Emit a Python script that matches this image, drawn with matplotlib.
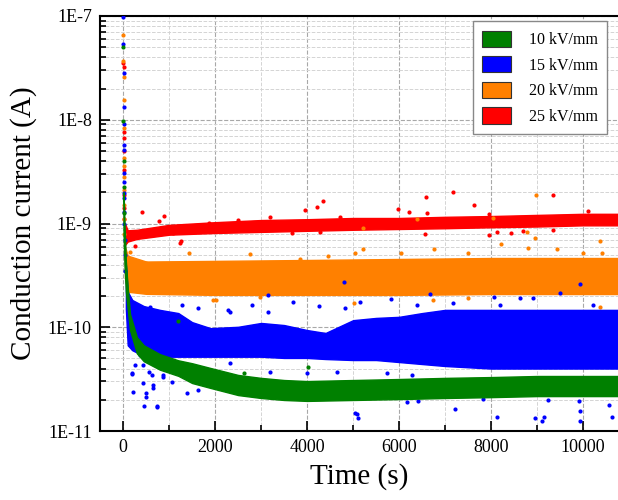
import matplotlib.pyplot as plt
from matplotlib.patches import Patch
from matplotlib.ticker import LogLocator, MultipleLocator, NullFormatter

# band of the dense point cloud for each field: time (s), upper / lower current (A)
red_t = [40, 100, 300, 1000, 2000, 3000, 4000, 5000, 6000, 7000, 8000, 9000, 10000, 10760]
red_hi = [1.0e-9, 8.6e-10, 8.7e-10, 9.7e-10, 1.03e-9, 1.08e-9, 1.10e-9, 1.13e-9, 1.13e-9,
          1.16e-9, 1.18e-9, 1.21e-9, 1.24e-9, 1.24e-9]
red_lo = [6.2e-10, 6.7e-10, 7.1e-10, 7.8e-10, 8.1e-10, 8.3e-10, 8.5e-10, 8.7e-10, 8.85e-10,
          9.0e-10, 9.2e-10, 9.35e-10, 9.6e-10, 9.6e-10]

orange_t = [40, 100, 500, 2000, 4000, 6000, 8000, 10000, 10760]
orange_hi = [6.0e-10, 4.9e-10, 4.3e-10, 4.36e-10, 4.45e-10, 4.55e-10, 4.65e-10, 4.65e-10, 4.65e-10]
orange_lo = [3.0e-10, 2.2e-10, 2.1e-10, 2.05e-10, 2.05e-10, 2.05e-10, 2.09e-10, 2.09e-10, 2.09e-10]

blue_t = [60, 100, 200, 450, 800, 1200, 1500, 1900, 2500, 3000, 3500, 4000, 4400, 5000,
          5500, 6000, 6500, 7000, 8000, 9000, 10000, 10760]
blue_hi = [4.0e-10, 2.2e-10, 1.83e-10, 1.6e-10, 1.47e-10, 1.37e-10, 1.12e-10, 9.8e-11, 1.01e-10,
           1.1e-10, 1.05e-10, 9.4e-11, 8.8e-11, 1.17e-10, 1.23e-10, 1.26e-10, 1.37e-10, 1.47e-10,
           1.47e-10, 1.47e-10, 1.47e-10, 1.47e-10]
blue_lo = [1.5e-10, 6.7e-11, 6.0e-11, 5.3e-11, 5.2e-11, 5.2e-11, 5.2e-11, 5.2e-11, 5.2e-11,
           5.2e-11, 5.06e-11, 5.06e-11, 4.94e-11, 4.83e-11, 4.83e-11, 4.62e-11, 4.42e-11, 4.23e-11,
           4.0e-11, 4.0e-11, 4.0e-11, 4.0e-11]

green_t = [10, 30, 60, 100, 150, 300, 450, 800, 1200, 1500, 1900, 2500, 3000, 3500, 4000,
           5000, 6000, 7000, 8000, 9000, 10000, 10760]
green_hi = [2.0e-9, 1.0e-9, 4.3e-10, 2.4e-10, 1.34e-10, 8.0e-11, 6.7e-11, 5.5e-11, 4.8e-11,
            4.5e-11, 4.05e-11, 3.47e-11, 3.25e-11, 3.1e-11, 3.03e-11, 3.1e-11, 3.17e-11,
            3.25e-11, 3.31e-11, 3.39e-11, 3.39e-11, 3.39e-11]
green_lo = [8.0e-10, 4.0e-10, 2.2e-10, 1.5e-10, 9.4e-11, 5.6e-11, 4.7e-11, 3.9e-11, 3.4e-11,
            2.9e-11, 2.6e-11, 2.22e-11, 2.08e-11, 1.99e-11, 1.95e-11, 1.99e-11, 2.03e-11,
            2.08e-11, 2.12e-11, 2.17e-11, 2.17e-11, 2.17e-11]

# single points: start-up transient and stray points (time, current)
red_pts = [(8, 3.5e-8), (10, 3.2e-8), (12, 7.7e-9), (12, 6.7e-9), (14, 5.0e-9), (15, 3.3e-9),
           (18, 1.9e-9), (20, 1.4e-9), (25, 1.1e-9),
           (413, 1.29e-9), (890, 1.18e-9), (780, 1.06e-9), (260, 6.1e-10), (1090, 8.1e-10),
           (1260, 6.8e-10), (1870, 1.01e-9), (2500, 1.08e-9), (4350, 1.65e-9), (4220, 1.43e-9),
           (3960, 1.35e-9), (3200, 1.16e-9), (4720, 1.16e-9), (5980, 1.38e-9), (6220, 1.29e-9),
           (6570, 9.5e-10), (3670, 8.1e-10), (4280, 8.3e-10), (6590, 1.8e-9), (7170, 2.01e-9),
           (7630, 1.51e-9), (9350, 1.88e-9), (6610, 1.26e-9), (7960, 1.24e-9), (10110, 1.32e-9),
           (7960, 7.75e-10), (8130, 8.3e-10), (8440, 8.1e-10), (8700, 8.5e-10), (9350, 8.65e-10),
           (6570, 7.9e-10), (1240, 6.5e-10)]
orange_pts = [(6, 6.6e-8), (8, 3.68e-8), (9, 2.6e-8), (10, 1.55e-8), (12, 8.3e-9), (14, 4.3e-9),
              (15, 3.6e-9), (17, 2.8e-9), (19, 2.1e-9), (22, 1.5e-9), (26, 1.1e-9), (30, 8.0e-10),
              (1430, 5.2e-10), (330, 4.16e-10), (500, 4.16e-10), (2020, 1.83e-10), (150, 5.3e-10),
              (5040, 5.2e-10), (5220, 5.68e-10), (6040, 5.2e-10), (2760, 5.1e-10), (2980, 1.96e-10),
              (5020, 1.71e-10), (4460, 4.86e-10), (3850, 4.55e-10), (8980, 1.88e-9), (8040, 1.13e-9),
              (8220, 6.34e-10), (8960, 7.25e-10), (8800, 5.81e-10), (6760, 5.68e-10), (7500, 5.2e-10),
              (10000, 5.2e-10), (10370, 6.78e-10), (10410, 5.2e-10), (9440, 5.68e-10),
              (10370, 1.57e-10), (7500, 1.91e-10), (8260, 2.29e-10), (8780, 8.28e-10),
              (5220, 9.06e-10), (6390, 1.10e-9), (6740, 1.83e-10), (1960, 1.83e-10)]
blue_pts = [(4, 9.8e-8), (7, 5.37e-8), (9, 2.82e-8), (11, 1.33e-8), (12, 9.1e-9), (14, 5.75e-9),
            (15, 5.1e-9), (17, 3.1e-9), (19, 2.5e-9), (21, 1.96e-9), (23, 1.75e-9), (26, 1.3e-9),
            (30, 1.0e-9), (35, 7.0e-10), (42, 5.0e-10), (50, 3.5e-10),
            (200, 3.62e-11), (220, 2.38e-11), (435, 2.9e-11), (500, 2.32e-11), (650, 2.77e-11),
            (740, 1.70e-11), (565, 3.7e-11), (260, 4.33e-11), (435, 4.33e-11), (870, 3.47e-11),
            (1065, 2.97e-11), (1390, 2.32e-11), (1630, 2.48e-11), (370, 5.4e-11), (1170, 4.5e-11),
            (1280, 1.64e-10), (1630, 1.53e-10), (590, 1.57e-10), (1090, 1.23e-10), (2290, 1.47e-10),
            (2800, 1.64e-10), (3150, 2.05e-10), (3700, 1.77e-10), (4260, 1.6e-10), (4800, 2.73e-10),
            (5150, 1.77e-10), (5830, 1.87e-10), (2330, 1.4e-10), (3150, 1.4e-10), (4830, 1.53e-10),
            (6390, 1.64e-10), (5090, 1.46e-11), (5110, 1.32e-11), (6170, 1.9e-11), (6410, 1.95e-11),
            (2330, 4.52e-11), (3200, 3.7e-11), (4000, 3.62e-11), (4650, 3.7e-11), (5740, 3.62e-11),
            (6280, 3.47e-11), (7220, 1.63e-11), (8130, 1.36e-11), (8960, 1.32e-11), (9150, 1.36e-11),
            (9940, 1.56e-11), (9910, 1.95e-11), (10570, 1.78e-11), (10630, 1.36e-11),
            (7830, 2.03e-11), (9240, 1.99e-11), (9940, 2.61e-10), (6670, 2.09e-10), (8070, 1.96e-10),
            (8910, 1.91e-10), (9500, 2.14e-10), (8200, 1.64e-10), (10220, 1.64e-10), (7170, 1.71e-10),
            (8630, 1.91e-10), (5040, 1.49e-11), (9110, 1.24e-11), (9940, 1.24e-11), (460, 1.74e-11),
            (500, 2.12e-11), (650, 2.6e-11), (200, 3.54e-11), (630, 3.47e-11), (740, 1.74e-11),
            (870, 3.31e-11)]
green_pts = [(5, 5.0e-8), (7, 9.7e-9), (9, 4.0e-9), (10, 2.25e-9), (12, 1.26e-9),
             (1200, 1.14e-10), (2630, 3.6e-11), (4020, 4.1e-11)]

labels = ['10 kV/mm', '15 kV/mm', '20 kV/mm', '25 kV/mm']
colors = ['#008000', '#0000ff', '#ff8000', '#ff0000']
yticks = [1e-11, 1e-10, 1e-9, 1e-8, 1e-7]
ytick_labels = ['1E-11', '1E-10', '1E-9', '1E-8', '1E-7']

plt.rcParams['font.family'] = ['Liberation Serif', 'DejaVu Serif']

fig = plt.figure(figsize=(6.18, 5.0), dpi=100)
ax = fig.add_axes([0.162, 0.138, 0.838, 0.830])

# back to front: 25, 20, 15, 10 kV/mm
series = [
    (red_t, red_hi, red_lo, red_pts, colors[3]),
    (orange_t, orange_hi, orange_lo, orange_pts, colors[2]),
    (blue_t, blue_hi, blue_lo, blue_pts, colors[1]),
    (green_t, green_hi, green_lo, green_pts, colors[0]),
]
for i, (t, hi, lo, pts, c) in enumerate(series):
    ax.fill_between(t, lo, hi, color=c, lw=1.0, edgecolor=c, zorder=3 + i)
    ax.scatter([p[0] for p in pts], [p[1] for p in pts], s=9, color=c, lw=0, zorder=3 + i)

ax.set_yscale('log')
ax.set_xlim(-500, 10760)
ax.set_ylim(1e-11, 1e-7)
ax.set_yticks(yticks)
ax.set_yticklabels(ytick_labels)
ax.yaxis.set_minor_locator(LogLocator(base=10, subs=range(2, 10)))
ax.yaxis.set_minor_formatter(NullFormatter())
ax.xaxis.set_major_locator(MultipleLocator(2000))
ax.xaxis.set_minor_locator(MultipleLocator(1000))

ax.tick_params(which='both', direction='in', labelsize=13, width=1.2)
ax.tick_params(which='major', length=7, pad=6)
ax.tick_params(which='minor', length=4)
ax.grid(which='major', ls='--', color='#a8a8a8', lw=0.8)
ax.grid(which='minor', ls='--', color='#d4d4d4', lw=0.7)
ax.set_axisbelow(True)

for s in ['left', 'bottom', 'top']:
    ax.spines[s].set_linewidth(1.5)
ax.spines['right'].set_visible(False)

ax.set_xlabel('Time (s)', fontsize=21, labelpad=5)
ax.set_ylabel('Conduction current (A)', fontsize=21, labelpad=8)

handles = [Patch(facecolor=c, edgecolor='#333333', lw=0.8) for c in colors]
leg = ax.legend(handles, labels, loc='upper right', bbox_to_anchor=(0.979, 0.988),
                borderaxespad=0, fontsize=11.5, fancybox=False, edgecolor='#888888',
                handlelength=1.8, handleheight=1.2, labelspacing=0.5, handletextpad=1.1,
                borderpad=0.6, framealpha=1)
leg.set_zorder(20)

fig.savefig('out.png', dpi=100)
